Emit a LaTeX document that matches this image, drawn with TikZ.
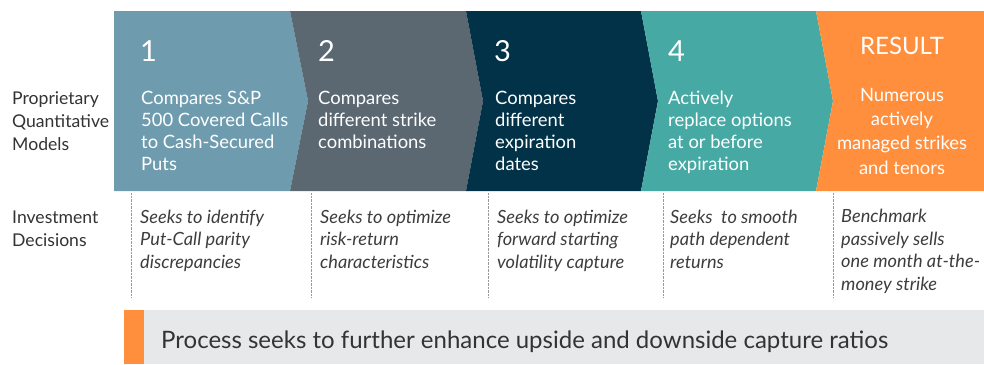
\documentclass[tikz,border=0pt]{standalone}
\usepackage{fontspec}
\setmainfont{Lato}
\definecolor{cA}{HTML}{6E9CAE}
\definecolor{cB}{HTML}{5B6771}
\definecolor{cC}{HTML}{023247}
\definecolor{cD}{HTML}{46A9A3}
\definecolor{cE}{HTML}{FF8F3C}
\definecolor{barg}{HTML}{E7E8EA}
\definecolor{txt}{HTML}{333333}
\definecolor{itx}{HTML}{3D3D3D}
\begin{document}
\begin{tikzpicture}[x=1pt,y=-1pt,
  num/.style={anchor=base west,inner sep=0pt,text=white,font=\fontsize{29}{29}\selectfont},
  body/.style={anchor=base west,inner sep=0pt,text=white,align=left,font=\fontsize{18.4}{22.2}\selectfont},
  rbody/.style={anchor=base,inner sep=0pt,text=white,align=center,font=\fontsize{18.4}{24.1}\selectfont},
  side/.style={anchor=base west,inner sep=0pt,text=txt,align=left,font=\fontsize{17.6}{23}\selectfont},
  dec/.style={anchor=base west,inner sep=0pt,text=itx,align=left,font=\fontsize{18.2}{22.6}\selectfont\itshape},
  sep/.style={draw=gray!80,line width=0.7pt,dash pattern=on 0.7pt off 0.7pt}]
\useasboundingbox (0,0) rectangle (984,364);
% chevron band
\fill[cA] (114,11) -- (290,11) -- (308,101) -- (290,191) -- (114,191) -- cycle;
\fill[cB] (290,11) -- (466,11) -- (483,101) -- (466,191) -- (290,191) -- (308,101) -- cycle;
\fill[cC] (466,11) -- (641,11) -- (658,101) -- (641,191) -- (466,191) -- (483,101) -- cycle;
\fill[cD] (641,11) -- (816,11) -- (833,101) -- (816,191) -- (641,191) -- (658,101) -- cycle;
\fill[cE] (816,11) -- (984,11) -- (984,191) -- (816,191) -- (833,101) -- cycle;
% numbers
\node[num] (n1) at (140,61) {1};
\node[num] (n2) at (318,61) {2};
\node[num] (n3) at (494,61) {3};
\node[num] (n4) at (668,61) {4};
\node[anchor=base,inner sep=0pt,text=white,font=\fontsize{24}{24}\selectfont] (nr) at (902,54) {RESULT};
% step texts (base anchor = last line baseline)
\node[body] (t1) at (141,170.6) {Compares S\&P\\500 Covered Calls\\to Cash-Secured\\Puts};
\node[body] (t2) at (318,148.4) {Compares\\different strike\\combinations};
\node[body] (t3) at (495,170.6) {Compares\\different\\expiration\\dates};
\node[body] (t4) at (668,170.6) {Actively\\replace options\\at or before\\expiration};
\node[rbody] (tr) at (902,174) {Numerous\\actively\\managed strikes\\and tenors};
% side labels
\node[side] (s1) at (12,150) {Proprietary\\Quantitative\\Models};
\node[side] (s2) at (12,246) {Investment\\Decisions};
% separators
\coordinate (a1) at (131,193); \coordinate (b1) at (131,298);
\coordinate (a2) at (311,193); \coordinate (b2) at (311,298);
\coordinate (a3) at (488,193); \coordinate (b3) at (488,298);
\coordinate (a4) at (663,193); \coordinate (b4) at (663,298);
\coordinate (a5) at (833,193); \coordinate (b5) at (833,298);
\foreach \i in {1,...,5} \draw[sep] (a\i) -- (b\i);
% decisions
\node[dec] (d1) at (140,268.2) {Seeks to identify\\Put-Call parity\\discrepancies};
\node[dec] (d2) at (320,268.2) {Seeks to optimize\\risk-return\\characteristics};
\node[dec] (d3) at (497,268.2) {Seeks to optimize\\forward starting\\volatility capture};
\node[dec] (d4) at (670,268.2) {Seeks\ \ to smooth\\path dependent\\returns};
\node[dec] (d5) at (841,290.2) {Benchmark\\passively sells\\one month at-the-\\money strike};
% bottom bar
\fill[barg] (124,310) rectangle (984,364);
\fill[cE] (124,310) rectangle (144,364);
\node[anchor=base west,inner sep=0pt,text=txt,font=\fontsize{24}{24}\selectfont] (bt) at (161,348) {Process seeks to further enhance upside and downside capture ratios};
\end{tikzpicture}
\end{document}
